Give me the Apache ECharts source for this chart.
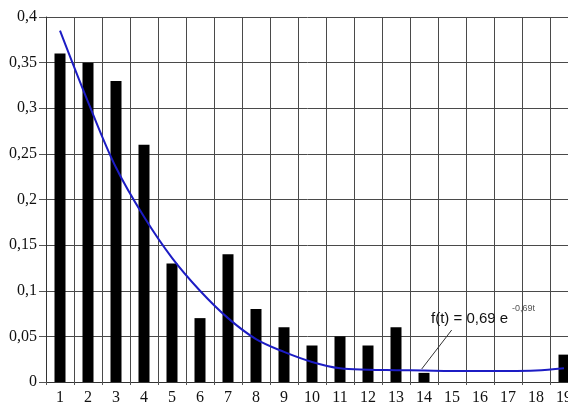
<!DOCTYPE html>
<html>
<head>
<meta charset="utf-8">
<script src="https://cdn.jsdelivr.net/npm/echarts@6/dist/echarts.min.js"></script>
<style>html,body{margin:0;padding:0;background:#fff}#c{width:568px;height:407px}</style>
</head>
<body>
<div id="c"></div>
<script>
const categories = ['1','2','3','4','5','6','7','8','9','10','11','12','13','14','15','16','17','18','19'];
const barValues = [0.36,0.35,0.33,0.26,0.13,0.07,0.14,0.08,0.06,0.04,0.05,0.04,0.06,0.01,0,0,0,0,0.03];
const curveValues = [0.385,0.307,0.235,0.181,0.136,0.100,0.070,0.047,0.033,0.022,0.015,0.0135,0.013,0.0125,0.012,0.012,0.012,0.0125,0.015];
const yTicks = {min:0, max:0.4, interval:0.05};

const serif = "Times New Roman";
const sans = "Liberation Sans";
const chart = echarts.init(document.getElementById('c'), null, {renderer:'canvas'});
const gridColor = '#4a4a4a';
chart.setOption({
  backgroundColor:'#fff',
  animation:false,
  textStyle:{fontFamily:'serif'},
  grid:{left:46, top:17, width:532, height:365, containLabel:false, outerBoundsMode:'none'},
  xAxis:{
    type:'category', data:categories, boundaryGap:true,
    axisLine:{lineStyle:{color:'#333', width:1}},
    axisTick:{show:true, alignWithLabel:false, length:3, lineStyle:{color:'#555'}},
    axisLabel:{color:'#111', fontFamily:'serif', fontSize:16, margin:8, interval:0},
    splitLine:{show:true, interval:0, lineStyle:{color:gridColor, width:1}}
  },
  yAxis:{
    type:'value', min:yTicks.min, max:yTicks.max, interval:yTicks.interval,
    axisLine:{show:true, lineStyle:{color:'#333', width:1}},
    axisTick:{show:true, length:7, lineStyle:{color:'#555'}},
    axisLabel:{color:'#111', fontFamily:serif, fontSize:16, margin:9,
      formatter:v => (Math.round(v*100)/100).toString().replace('.', ',')},
    splitLine:{show:true, lineStyle:{color:gridColor, width:1}}
  },
  series:[
    {type:'bar', data:barValues, barWidth:11, itemStyle:{color:'#000'}, z:2},
    {type:'line', data:curveValues, smooth:0.35, showSymbol:false, symbol:'none',
     lineStyle:{color:'#1c1cc4', width:2}, z:3}
  ],
  graphic:[
    {type:'line', shape:{x1:451.7, y1:330, x2:421.7, y2:369}, style:{stroke:'#333', lineWidth:1}, z:10},
    {type:'text', left:431, top:311, style:{text:'f(t) = 0,69 e', fontFamily:sans, fontSize:15, fill:'#111'}, z:10},
    {type:'text', left:512, top:304, style:{text:'-0,69t', fontFamily:sans, fontSize:9, fill:'#555'}, z:10}
  ]
});
</script>
</body>
</html>
